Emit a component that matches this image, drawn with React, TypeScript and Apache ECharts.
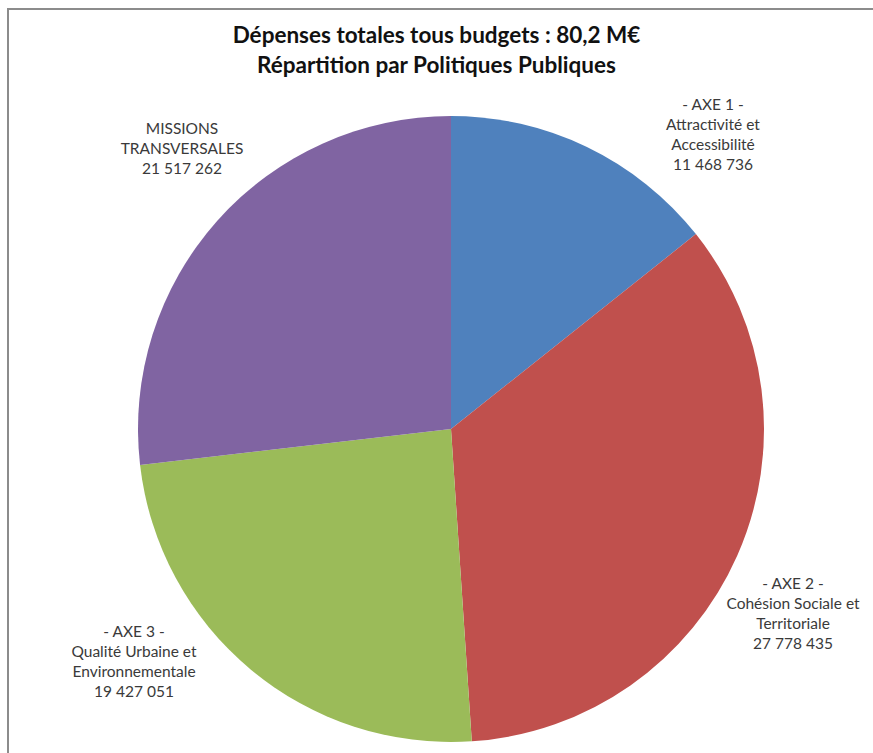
import React, { useEffect, useRef } from "react";
import * as echarts from "echarts";

const titleLines = ["Dépenses totales tous budgets : 80,2 M€", "Répartition par Politiques Publiques"];
const categories = [
  "- AXE 1 -\nAttractivité et\nAccessibilité",
  "- AXE 2 -\nCohésion Sociale et\nTerritoriale",
  "- AXE 3 -\nQualité Urbaine et\nEnvironnementale",
  "MISSIONS\nTRANSVERSALES",
];
const values = [11468736, 27778435, 19427051, 21517262];
const colors = ["#4F81BD", "#C0504D", "#9BBB59", "#8064A2"];
// label anchor positions (centre of each label block), in px
const labelPos = [
  [713, 134],
  [793, 613],
  [134, 661],
  [182, 148],
];

const fmt = (v: number) => String(v).replace(/\B(?=(\d{3})+(?!\d))/g, " ");

export default function App() {
  const ref = useRef<HTMLDivElement>(null);
  useEffect(() => {
    document.body.style.margin = "0";
    const chart = echarts.init(ref.current!, null, { renderer: "svg" });
    chart.setOption({
      animation: false,
      backgroundColor: "#ffffff",
      title: {
        text: titleLines.join("\n"),
        left: "center",
        top: 14,
        padding: [5, 0, 5, 16],
        textStyle: {
          fontFamily: "Lato",
          fontWeight: "bold",
          fontSize: 22.5,
          lineHeight: 30,
          color: "#111111",
        },
      },
      graphic: [
        {
          type: "rect",
          shape: { x: 8, y: 9, width: 900, height: 800 },
          style: { fill: "none", stroke: "#8c8c8c", lineWidth: 2 },
          silent: true,
        },
      ],
      series: [
        {
          type: "pie",
          center: [451, 429],
          radius: 313,
          startAngle: 90,
          clockwise: true,
          data: categories.map((name, i) => ({
            name,
            value: values[i],
            itemStyle: { color: colors[i] },
          })),
          itemStyle: { borderWidth: 0 },
          label: {
            show: true,
            formatter: (p: any) => `${p.name}\n${fmt(p.value)}`,
            fontFamily: "Lato",
            fontSize: 15.5,
            lineHeight: 20,
            color: "#3a3a3a",
            align: "center",
            overflow: "none",
            width: 300,
          },
          labelLine: { show: false },
          labelLayout: (params: any) => ({
            x: labelPos[params.dataIndex][0],
            y: labelPos[params.dataIndex][1],
            align: "center",
            verticalAlign: "middle",
          }),
          emphasis: { disabled: true },
        },
      ],
    });
    return () => chart.dispose();
  }, []);
  return <div ref={ref} style={{ width: 873, height: 753 }} />;
}
